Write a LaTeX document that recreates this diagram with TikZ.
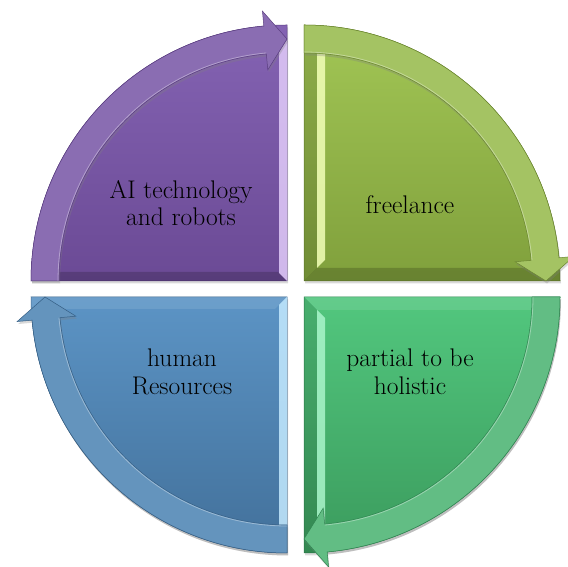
\documentclass[tikz,border=0pt]{standalone}
\usetikzlibrary{shadows}
\definecolor{puTop}{HTML}{8463B3}
\definecolor{puBot}{HTML}{6B4A95}
\definecolor{puShaft}{HTML}{8A6DB2}
\definecolor{puLine}{HTML}{5A3E80}
\definecolor{puLight}{HTML}{E2CCFA}
\definecolor{grTop}{HTML}{A2C655}
\definecolor{grBot}{HTML}{80A03C}
\definecolor{grShaft}{HTML}{A4C363}
\definecolor{grLine}{HTML}{6A8530}
\definecolor{grLight}{HTML}{F2FFB8}
\definecolor{gnTop}{HTML}{52C77E}
\definecolor{gnBot}{HTML}{3B9B5D}
\definecolor{gnShaft}{HTML}{62BD84}
\definecolor{gnLine}{HTML}{2F8450}
\definecolor{gnLight}{HTML}{AAF5CB}
\definecolor{blTop}{HTML}{5C94C5}
\definecolor{blBot}{HTML}{42709A}
\definecolor{blShaft}{HTML}{6494BD}
\definecolor{blLine}{HTML}{355E84}
\definecolor{blLight}{HTML}{C4EAFF}
\tikzset{
  segshadow/.style={drop shadow={shadow xshift=1pt,shadow yshift=-2.5pt,opacity=.3}},
  quadtext/.style={font=\fontsize{25.5}{27.5}\selectfont, align=center, text=black, inner sep=0pt},
}
% #1 centre, #2 start angle, #3 top colour, #4 bottom colour, #5 shaft colour, #6 line colour, #7 bevel code
\newcommand\drawseg[7]{%
  \begin{scope}[shift={#1}]
    \path[segshadow, top color=#3, bottom color=#4, draw=#6, line width=.5pt]
      (0,0) -- (#2:256) arc[start angle=#2, end angle={#2-90}, radius=256] -- cycle;
    \begin{scope}
      \clip (0,0) -- (#2:256) arc[start angle=#2, end angle={#2-90}, radius=256] -- cycle;
      #7
    \end{scope}
    \path[segshadow, fill=#5, draw=#6, line width=.5pt]
      (#2:256) arc[start angle=#2, end angle={#2-84.8}, radius=256]
      -- ({#2-84.8}:271) -- ({#2-90}:242) -- ({#2-84.8}:212) -- ({#2-84.8}:228)
      arc[start angle={#2-84.8}, end angle=#2, radius=228] -- cycle;
    \draw[white, opacity=.35, line width=.8pt]
      ({#2-84.8}:229) arc[start angle={#2-84.8}, end angle=#2, radius=229];
  \end{scope}}
\begin{document}
\begin{tikzpicture}[x=1pt,y=1pt]
\useasboundingbox (0,0) rectangle (568,567);
\clip (0,0) rectangle (568,567);
% top left: purple
\drawseg{(287,286)}{180}{puTop}{puBot}{puShaft}{puLine}{%
  \fill[black, opacity=.18] (0,0) -- (-256,0) -- (-256,9) -- (-9,9) -- cycle;
  \fill[puLight, opacity=.85] (0,0) -- (0,241) -- (-8,229) -- (-8,8) -- cycle;}
% top right: olive green
\drawseg{(304,286)}{90}{grTop}{grBot}{grShaft}{grLine}{%
  \fill[black, opacity=.12] (0,0) -- (0,256) -- (13,256) -- (13,13) -- cycle;
  \fill[black, opacity=.18] (0,0) -- (256,0) -- (256,13) -- (13,13) -- cycle;
  \fill[grLight, opacity=.85] (13,13) -- (13,240) -- (21,240) -- (21,21) -- cycle;}
% bottom right: green
\drawseg{(304,270)}{0}{gnTop}{gnBot}{gnShaft}{gnLine}{%
  \fill[white, opacity=.10] (0,0) -- (256,0) -- (256,-13) -- (13,-13) -- cycle;
  \fill[black, opacity=.12] (0,0) -- (13,-13) -- (13,-256) -- (0,-256) -- cycle;
  \fill[gnLight, opacity=.85] (13,-13) -- (21,-21) -- (21,-240) -- (13,-240) -- cycle;}
% bottom left: blue
\drawseg{(287,270)}{270}{blTop}{blBot}{blShaft}{blLine}{%
  \fill[white, opacity=.10] (0,0) -- (-256,0) -- (-256,-12) -- (-12,-12) -- cycle;
  \fill[blLight, opacity=.85] (0,0) -- (-8,-8) -- (-8,-250) -- (0,-250) -- cycle;}
% texts
\node[quadtext] (ai) at (181,364) {AI technology\\and robots};
\node[quadtext] (fl) at (410,362) {freelance};
\node[quadtext] (hr) at (182,195) {human\\Resources};
\node[quadtext] (ph) at (410,195) {partial to be\\holistic};
\end{tikzpicture}
\end{document}
